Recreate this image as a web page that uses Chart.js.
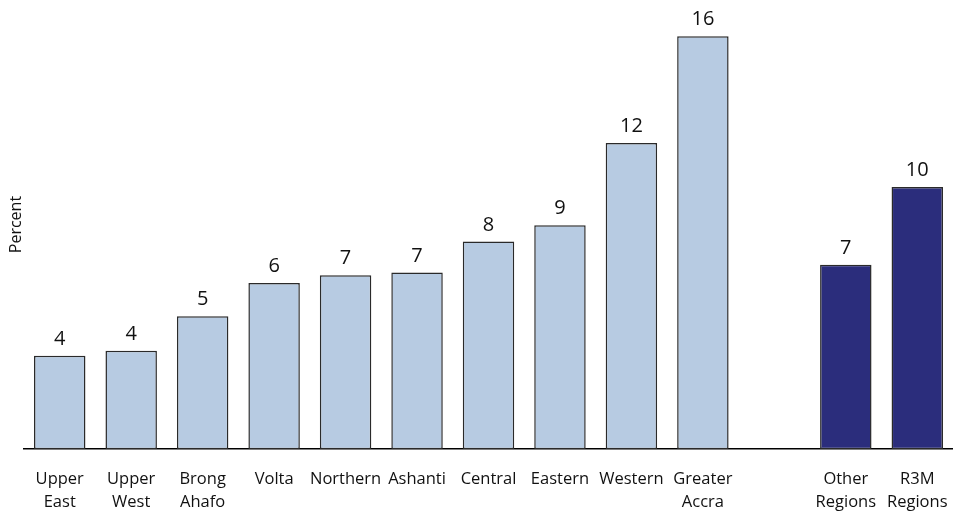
<!DOCTYPE html>
<html>
<head>
<meta charset="utf-8">
<script src="https://cdn.jsdelivr.net/npm/chart.js@4/dist/chart.umd.min.js"></script>
<style>
  html, body { margin: 0; padding: 0; background: #ffffff; }
  #wrap { width: 953px; height: 519px; position: relative; }
</style>
</head>
<body>
<div id="wrap"><canvas id="c"></canvas></div>
<script>
// Categories (empty slot separates regional bars from the summary bars)
const categories = [
  ["Upper", "East"], ["Upper", "West"], ["Brong", "Ahafo"], "Volta", "Northern",
  "Ashanti", "Central", "Eastern", "Western", ["Greater", "Accra"], "",
  ["Other", "Regions"], ["R3M", "Regions"]
];
// Percent values
const percentValues = [3.62, 3.81, 5.15, 6.44, 6.74, 6.84, 8.04, 8.67, 11.86, 16.0, null, 7.14, 10.16];
// Which group each bar belongs to: 'region' or 'summary'
const barGroup = ['region','region','region','region','region','region','region','region','region','region', null, 'summary','summary'];

const groupColors = { region: '#b7cbe2', summary: '#2b2d7c' };

const valueLabelPlugin = {
  id: 'valueLabels',
  afterDatasetsDraw(chart) {
    const ctx = chart.ctx;
    const meta = chart.getDatasetMeta(0);
    ctx.save();
    ctx.font = '20px "Open Sans", sans-serif';
    ctx.fillStyle = '#111111';
    ctx.textAlign = 'center';
    ctx.textBaseline = 'alphabetic';
    meta.data.forEach((bar, i) => {
      const v = percentValues[i];
      if (v === null || v === undefined) return;
      ctx.fillText(String(Math.round(v)), bar.x, bar.y - 11);
    });
    ctx.restore();
  }
};

new Chart(document.getElementById('c'), {
  type: 'bar',
  data: {
    labels: categories,
    datasets: [{
      data: percentValues,
      backgroundColor: barGroup.map(g => g ? groupColors[g] : 'rgba(0,0,0,0)'),
      borderColor: '#2a2a2a',
      borderWidth: 1.5,
      borderSkipped: false,
      categoryPercentage: 1.0,
      barPercentage: 0.72
    }]
  },
  options: {
    responsive: true,
    maintainAspectRatio: false,
    animation: false,
    layout: { padding: { top: 0, right: 0, bottom: 5, left: 0 } },
    plugins: {
      legend: { display: false },
      tooltip: { enabled: false },
      title: { display: false }
    },
    scales: {
      x: {
        grid: {
          display: true,
          drawOnChartArea: false,
          drawTicks: true,
          tickLength: 18,
          color: 'rgba(0,0,0,0)'
        },
        border: { display: true, color: '#000000', width: 1.5 },
        ticks: {
          color: '#111111',
          font: { family: '"Open Sans", sans-serif', size: 16.5, lineHeight: 1.42 },
          padding: 0,
          maxRotation: 0,
          autoSkip: false
        }
      },
      y: {
        min: 0,
        max: 17.4,
        grid: { display: false, drawTicks: false },
        border: { display: false },
        ticks: { display: false },
        title: {
          display: true,
          text: 'Percent',
          color: '#111111',
          font: { family: '"Open Sans", sans-serif', size: 16, lineHeight: 1.0 },
          padding: { top: 8, bottom: 0 }
        }
      }
    }
  },
  plugins: [valueLabelPlugin]
});
</script>
</body>
</html>
